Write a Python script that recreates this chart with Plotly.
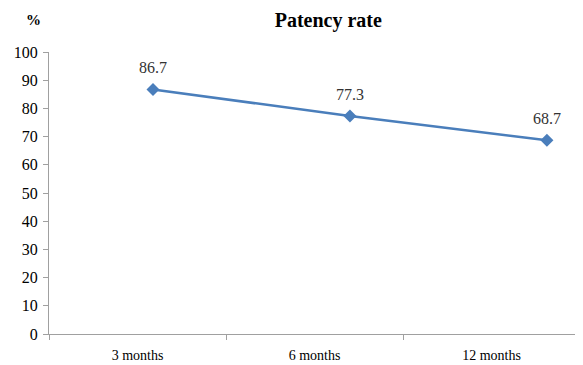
import plotly.graph_objects as go

categories = ["3 months", "6 months", "12 months"]
patency = [86.7, 77.3, 68.7]
y_ticks = list(range(0, 101, 10))

serif = "Liberation Serif, Times New Roman, serif"
blue = "#4a7ebb"
axis_gray = "#a0a0a0"

fig = go.Figure()
# invisible trace on categorical axis to show category labels
fig.add_trace(go.Scatter(x=categories, y=[None] * len(categories), xaxis="x", yaxis="y",
                         showlegend=False, hoverinfo="skip"))
fig.add_trace(go.Scatter(
    x=list(range(len(categories))), y=patency, xaxis="x2", yaxis="y",
    mode="lines+markers",
    line=dict(color=blue, width=2.5),
    marker=dict(symbol="diamond", size=10, color=blue),
    showlegend=False,
))

value_labels = [dict(text=f"{v:.1f}", x=i, y=v, xref="x2", yref="y", yshift=22,
                     xanchor="center", yanchor="middle", showarrow=False,
                     font=dict(family=serif, size=16, color="#333333"))
                for i, v in enumerate(patency)]

fig.update_layout(
    width=575, height=357,
    margin=dict(l=41, r=3, t=44, b=31, autoexpand=False),
    paper_bgcolor="white", plot_bgcolor="white",
    title=dict(text="<b>Patency rate</b>", x=0.557, xanchor="center", y=0.966, yanchor="middle",
               font=dict(family=serif, size=20, color="black")),
    xaxis=dict(type="category", categoryarray=categories, range=[-0.5, 2.5], automargin=False,
               showline=True, linecolor=axis_gray, linewidth=1,
               ticks="outside", tickson="boundaries", ticklen=5, tickcolor=axis_gray,
               showgrid=False, zeroline=False,
               tickfont=dict(family=serif, size=14, color="black"),
               ticklabelstandoff=8),
    xaxis2=dict(overlaying="x", range=[-0.528, 2.168], visible=False, showgrid=False, zeroline=False),
    yaxis=dict(range=[0, 100], tickvals=y_ticks, automargin=False,
               showline=True, linecolor=axis_gray, linewidth=1,
               ticks="outside", ticklen=5, tickcolor=axis_gray, showgrid=False, zeroline=False,
               tickfont=dict(family=serif, size=16, color="black"), ticklabelstandoff=2),
    annotations=[dict(text="<b>%</b>", xref="paper", yref="paper", x=-0.03, y=1.113,
                      xanchor="center", yanchor="middle", showarrow=False,
                      font=dict(family=serif, size=15, color="black"))] + value_labels,
)

fig.write_html("out.html")
